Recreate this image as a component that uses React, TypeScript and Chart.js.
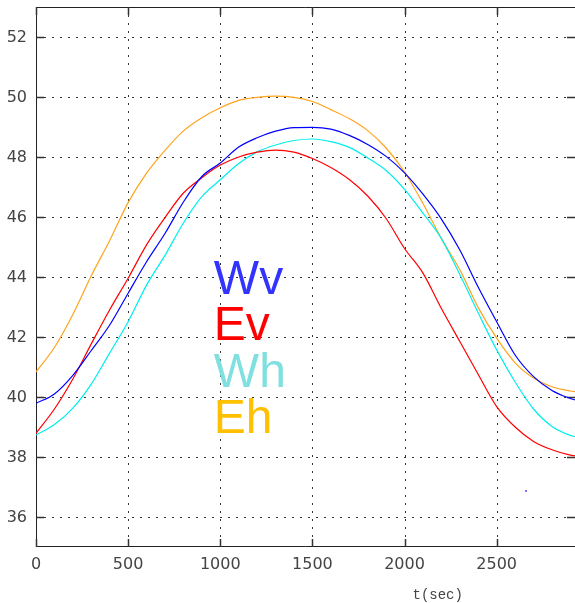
import React, { useEffect, useRef } from "react";
import { Chart, registerables } from "chart.js";

Chart.register(...registerables);

// time axis (seconds)
const timeSec = [0, 100, 200, 300, 400, 500, 600, 700, 800, 900, 1000, 1100, 1200, 1300, 1400, 1500, 1600, 1700, 1800, 1900, 2000, 2100, 2200, 2300, 2400, 2500, 2600, 2700, 2800, 2900, 2925];

const wv = [39.79, 40.1, 40.72, 41.55, 42.4, 43.46, 44.51, 45.45, 46.5, 47.35, 47.8, 48.33, 48.64, 48.86, 48.98, 48.99, 48.93, 48.72, 48.42, 48.02, 47.47, 46.76, 45.93, 44.9, 43.66, 42.51, 41.4, 40.68, 40.22, 39.95, 39.9];
const ev = [38.79, 39.6, 40.6, 41.77, 42.91, 43.96, 45.07, 45.98, 46.8, 47.31, 47.73, 48.0, 48.16, 48.23, 48.16, 47.95, 47.65, 47.25, 46.7, 45.95, 44.95, 44.13, 42.95, 41.85, 40.75, 39.68, 39.0, 38.52, 38.24, 38.06, 38.04];
const wh = [38.73, 39.08, 39.63, 40.43, 41.47, 42.51, 43.73, 44.72, 45.8, 46.68, 47.24, 47.78, 48.17, 48.4, 48.55, 48.6, 48.51, 48.32, 47.97, 47.55, 46.92, 46.13, 45.28, 44.08, 42.8, 41.57, 40.5, 39.6, 39.02, 38.72, 38.68];
const eh = [40.84, 41.65, 42.75, 44.04, 45.22, 46.48, 47.46, 48.22, 48.87, 49.31, 49.64, 49.89, 49.99, 50.03, 49.99, 49.85, 49.58, 49.28, 48.88, 48.3, 47.5, 46.45, 45.28, 44.24, 42.98, 41.96, 41.14, 40.63, 40.34, 40.2, 40.18];

// lone sample
const strayT = [2659];
const strayV = [36.87];

const xTicks = [0, 500, 1000, 1500, 2000, 2500];
const yTicks = [36, 38, 40, 42, 44, 46, 48, 50, 52];

const seriesNames = ["Wv", "Ev", "Wh", "Eh"];
const lineColors = ["#0000ff", "#ff0000", "#00eeee", "#ffa41c"];
const nameColors = ["#3333ff", "#ff0000", "#80e0e0", "#ffc000"];

const toPoints = (vals: number[]) => vals.map((v, i) => ({ x: timeSec[i], y: v }));

const framePlugin = {
  id: "frame",
  beforeDatasetsDraw(chart: any) {
    const { ctx, chartArea: a, scales } = chart;
    const xs = scales.x;
    const ys = scales.y;
    ctx.save();
    ctx.strokeStyle = "#333";
    ctx.lineWidth = 1;
    ctx.setLineDash([2, 6]);
    for (const v of yTicks) {
      const py = Math.round(ys.getPixelForValue(v)) + 0.5;
      ctx.beginPath();
      ctx.moveTo(a.left, py);
      ctx.lineTo(a.right, py);
      ctx.stroke();
    }
    for (const v of xTicks) {
      if (v === 0) continue;
      const px = Math.round(xs.getPixelForValue(v)) + 0.5;
      ctx.beginPath();
      ctx.moveTo(px, a.top);
      ctx.lineTo(px, a.bottom);
      ctx.stroke();
    }
    ctx.setLineDash([]);
    ctx.strokeStyle = "#222";
    // frame: left, top, bottom
    ctx.beginPath();
    ctx.moveTo(a.left + 0.5, a.top + 0.5);
    ctx.lineTo(a.left + 0.5, a.bottom - 0.5);
    ctx.lineTo(a.right, a.bottom - 0.5);
    ctx.moveTo(a.left + 0.5, a.top + 0.5);
    ctx.lineTo(a.right, a.top + 0.5);
    ctx.stroke();
    // inward tick marks
    ctx.strokeStyle = "#333";
    ctx.lineWidth = 1.5;
    const tl = 8;
    for (const v of yTicks) {
      const py = Math.round(ys.getPixelForValue(v)) + 0.5;
      ctx.beginPath();
      ctx.moveTo(a.left, py);
      ctx.lineTo(a.left + tl, py);
      ctx.moveTo(a.right - tl, py);
      ctx.lineTo(a.right, py);
      ctx.stroke();
    }
    for (const v of xTicks) {
      const px = Math.round(xs.getPixelForValue(v)) + 0.5;
      ctx.beginPath();
      ctx.moveTo(px, a.bottom);
      ctx.lineTo(px, a.bottom - tl);
      ctx.moveTo(px, a.top);
      ctx.lineTo(px, a.top + tl);
      ctx.stroke();
    }
    // tick labels
    ctx.fillStyle = "#444";
    ctx.font = "16px 'DejaVu Sans', sans-serif";
    ctx.textAlign = "right";
    ctx.textBaseline = "middle";
    for (const v of yTicks) {
      ctx.fillText(String(v), a.left - 9, ys.getPixelForValue(v) + 1);
    }
    ctx.textAlign = "center";
    ctx.textBaseline = "alphabetic";
    for (const v of xTicks) {
      ctx.fillText(String(v), xs.getPixelForValue(v), a.bottom + 22);
    }
    ctx.restore();
  },
  afterDatasetsDraw(chart: any) {
    const { ctx, scales } = chart;
    const xs = scales.x;
    const ys = scales.y;
    ctx.save();
    // series names stacked in the middle of the plot
    ctx.font = "48px 'Liberation Sans', Arial, sans-serif";
    ctx.textAlign = "left";
    ctx.textBaseline = "alphabetic";
    const left = xs.getPixelForValue(965);
    const base = ys.getPixelForValue(43.45);
    seriesNames.forEach((name, i) => {
      ctx.fillStyle = nameColors[i];
      ctx.fillText(name, left, base + i * 46.5);
    });
    // axis caption
    ctx.font = "14px 'Liberation Mono', 'DejaVu Sans Mono', monospace";
    ctx.fillStyle = "#444";
    ctx.textAlign = "center";
    ctx.fillText("t(sec)", xs.getPixelForValue(2180), 599);
    ctx.restore();
  },
};

export default function App() {
  const ref = useRef<HTMLCanvasElement | null>(null);

  useEffect(() => {
    if (!ref.current) return;
    const lineSets = [wv, ev, wh, eh].map((vals, i) => ({
      label: seriesNames[i],
      data: toPoints(vals),
      borderColor: lineColors[i],
      backgroundColor: lineColors[i],
      borderWidth: 1.2,
      pointRadius: 0,
      cubicInterpolationMode: "monotone" as const,
      fill: false,
    }));
    const chart = new Chart(ref.current, {
      type: "line",
      data: {
        datasets: [
          ...lineSets,
          {
            label: "stray",
            type: "scatter",
            data: strayT.map((t, i) => ({ x: t, y: strayV[i] })),
            pointRadius: 1,
            borderWidth: 0,
            backgroundColor: "#4444ff",
            borderColor: "#4444ff",
          } as any,
        ],
      },
      options: {
        animation: false,
        responsive: false,
        layout: { autoPadding: false, padding: { top: 7, right: 0, left: 0, bottom: 0 } },
        plugins: { legend: { display: false }, tooltip: { enabled: false } },
        scales: {
          x: {
            type: "linear",
            min: 0,
            max: 2925,
            grid: { display: false },
            border: { display: false },
            afterBuildTicks: (s: any) => {
              s.ticks = xTicks.map((v) => ({ value: v }));
            },
            afterFit: (s: any) => {
              s.height = 56;
              s.paddingLeft = 0;
              s.paddingRight = 0;
            },
            ticks: { display: false },
          },
          y: {
            type: "linear",
            min: 35,
            max: 53,
            grid: { display: false },
            border: { display: false },
            afterBuildTicks: (s: any) => {
              s.ticks = yTicks.map((v) => ({ value: v }));
            },
            afterFit: (s: any) => {
              s.width = 36;
              s.paddingTop = 0;
              s.paddingBottom = 0;
            },
            ticks: { display: false },
          },
        },
      },
      plugins: [framePlugin],
    });
    return () => chart.destroy();
  }, []);

  return (
    <div style={{ position: "fixed", left: 0, top: 0, width: 575, height: 603, background: "#fff" }}>
      <canvas ref={ref} width={575} height={603} style={{ display: "block" }} />
    </div>
  );
}
